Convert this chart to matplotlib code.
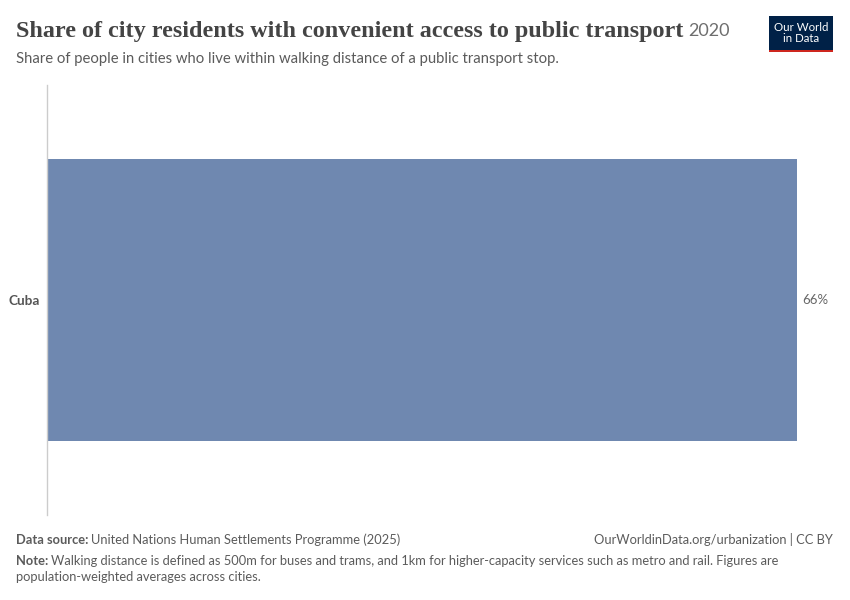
import matplotlib
matplotlib.use("Agg")
import matplotlib.pyplot as plt
from matplotlib.patches import Rectangle

categories = ["Cuba"]
values = [66]
value_labels = ["66%"]

title = "Share of city residents with convenient access to public transport"
year = "2020"
subtitle = "Share of people in cities who live within walking distance of a public transport stop."

W, H = 850, 600
fig = plt.figure(figsize=(8.5, 6), dpi=100)
fig.patch.set_facecolor("white")

def fx(px):
    return px / W

def fy(py):
    return 1 - py / H

# axes: x 47..797, y 85..515
ax = fig.add_axes([fx(47), fy(515), fx(797) - fx(47), (515 - 85) / H])
ax.barh(range(len(categories)), values, height=0.655, color="#6f88b0", left=0)
ax.set_xlim(0, values[0])
ax.set_ylim(-0.5, 0.5)
ax.invert_yaxis()
for s in ["top", "right", "bottom"]:
    ax.spines[s].set_visible(False)
ax.spines["left"].set_color("#cccccc")
ax.spines["left"].set_linewidth(1)
ax.set_xticks([])
ax.set_yticks(range(len(categories)))
ax.set_yticklabels(categories, family="Lato", fontsize=9.8, fontweight="bold", color="#555555")
ax.tick_params(axis="y", length=0, pad=5)
for i, (v, lab) in enumerate(zip(values, value_labels)):
    ax.annotate(lab, (v, i), xytext=(4, 0), textcoords="offset points",
                va="center", ha="left", family="Lato", fontsize=9.5, color="#666666",
                annotation_clip=False)

fig.canvas.draw()
r = fig.canvas.get_renderer()

def right_of(t, gap):
    return t.get_window_extent(r).x1 / W + fx(gap)

# title
t = fig.text(fx(16), fy(31), title, family="Liberation Serif", fontsize=17.35,
             fontweight="bold", color="#444444", va="center", ha="left")
fig.text(right_of(t, 5), fy(31), year, family="Lato", fontsize=13, color="#6e6e6e",
         va="center", ha="left")
fig.text(fx(16), fy(59), subtitle, family="Lato", fontsize=10.75, color="#5b5b5b",
         va="center", ha="left")

# logo
logo = Rectangle((fx(769), fy(50)), fx(833) - fx(769), (50 - 16) / H,
                 transform=fig.transFigure, facecolor="#002147", edgecolor="none")
fig.add_artist(logo)
red = Rectangle((fx(769), fy(52)), fx(833) - fx(769), 2.5 / H,
                transform=fig.transFigure, facecolor="#ce261e", edgecolor="none")
fig.add_artist(red)
fig.text(fx(801), fy(33), "Our World\nin Data", family="Lato", fontsize=8.3,
         color="white", ha="center", va="center", linespacing=1.0)

# footer
fs = 9.32
c = "#5b5b5b"
a = fig.text(fx(16), fy(540), "Data source:", family="Lato", fontsize=fs, fontweight="bold",
             color=c, va="center", ha="left")
fig.text(right_of(a, 3), fy(540), "United Nations Human Settlements Programme (2025)", family="Lato",
         fontsize=fs, color=c, va="center", ha="left")
fig.text(fx(833), fy(540), "OurWorldinData.org/urbanization | CC BY", family="Lato",
         fontsize=fs, color=c, va="center", ha="right")
b = fig.text(fx(16), fy(561), "Note:", family="Lato", fontsize=fs, fontweight="bold",
             color=c, va="center", ha="left")
fig.text(right_of(b, 3), fy(561), "Walking distance is defined as 500m for buses and trams, and 1km for higher-capacity services such as metro and rail. Figures are",
         family="Lato", fontsize=fs, color=c, va="center", ha="left")
fig.text(fx(16), fy(577), "population-weighted averages across cities.", family="Lato",
         fontsize=fs, color=c, va="center", ha="left")

fig.savefig("out.png", dpi=100, facecolor="white")
